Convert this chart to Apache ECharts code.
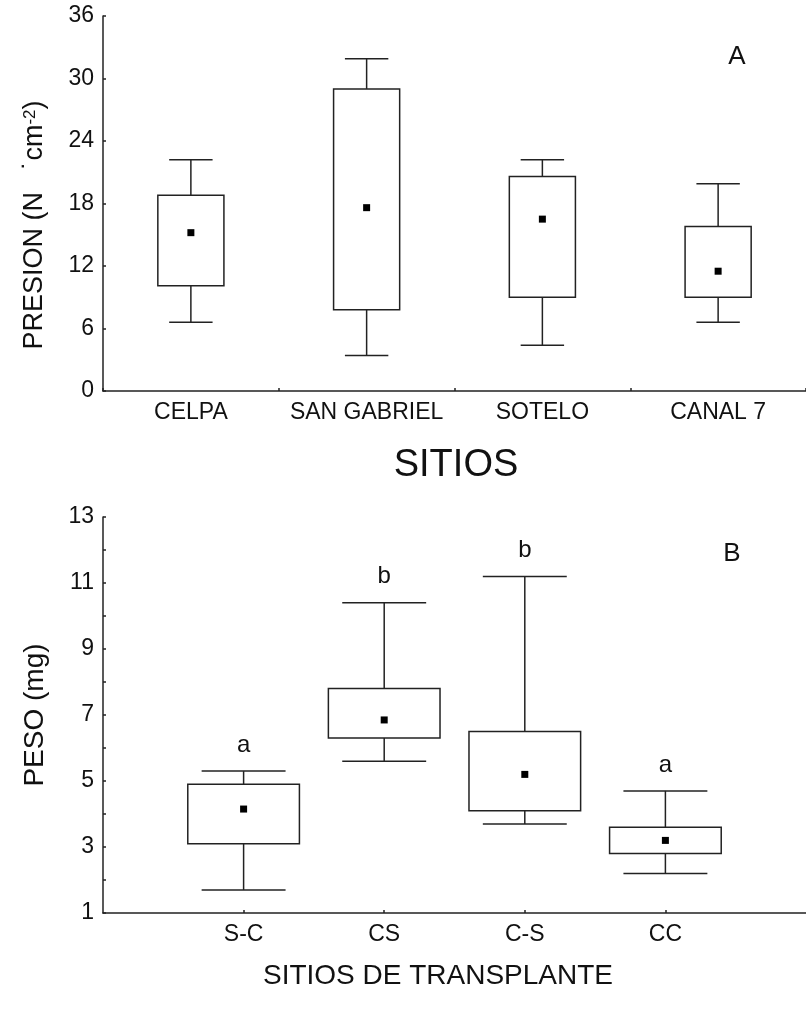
<!DOCTYPE html>
<html>
<head>
<meta charset="utf-8">
<script src="https://cdn.jsdelivr.net/npm/echarts@6/dist/echarts.min.js"></script>
<style>
  html, body { margin: 0; padding: 0; background: #ffffff; }
  #chart { width: 806px; height: 1017px; }
</style>
</head>
<body>
<div id="chart"></div>
<script>
// Panel A: penetration pressure by site
const sitios = ['CELPA', 'SAN GABRIEL', 'SOTELO', 'CANAL 7'];
const presionMin   = [6.6, 3.4, 4.4, 6.6];
const presionQ1    = [10.1, 7.8, 9.0, 9.0];
const presionMedia = [15.2, 17.6, 16.5, 11.5];
const presionQ3    = [18.8, 29.0, 20.6, 15.8];
const presionMax   = [22.2, 31.9, 22.2, 19.9];
const presionTicks = [0, 6, 12, 18, 24, 30, 36];

// Panel B: weight by transplant group
const transplante = ['S-C', 'CS', 'C-S', 'CC'];
const pesoMin   = [1.7, 5.6, 3.7, 2.2];
const pesoQ1    = [3.1, 6.3, 4.1, 2.8];
const pesoMedia = [4.15, 6.85, 5.2, 3.2];
const pesoQ3    = [4.9, 7.8, 6.5, 3.6];
const pesoMax   = [5.3, 10.4, 11.2, 4.7];
const pesoLetras = ['a', 'b', 'b', 'a'];
const pesoTicks = [1, 3, 5, 7, 9, 11, 13];

const FONT = 'Liberation Sans, Arial, sans-serif';
const INK = '#111111';
const LINE = '#222222';

// rows: [x, min, q1, mean, q3, max]
const rowsA = sitios.map((_, i) => [i, presionMin[i], presionQ1[i], presionMedia[i], presionQ3[i], presionMax[i]]);
const rowsB = transplante.map((_, i) => [i + 1, pesoMin[i], pesoQ1[i], pesoMedia[i], pesoQ3[i], pesoMax[i]]);

function boxRenderer(boxFrac, capFrac, letters) {
  return function (params, api) {
    const x = api.value(0);
    const unit = api.size([1, 0])[0];
    const bw = unit * boxFrac, cw = unit * capFrac;
    const pMin = api.coord([x, api.value(1)]);
    const pQ1 = api.coord([x, api.value(2)]);
    const pMean = api.coord([x, api.value(3)]);
    const pQ3 = api.coord([x, api.value(4)]);
    const pMax = api.coord([x, api.value(5)]);
    const cx = pMin[0];
    const lineStyle = { stroke: LINE, lineWidth: 1.5, fill: null };
    const children = [
      { type: 'line', shape: { x1: cx, y1: pQ3[1], x2: cx, y2: pMax[1] }, style: lineStyle },
      { type: 'line', shape: { x1: cx, y1: pMin[1], x2: cx, y2: pQ1[1] }, style: lineStyle },
      { type: 'line', shape: { x1: cx - cw / 2, y1: pMax[1], x2: cx + cw / 2, y2: pMax[1] }, style: lineStyle },
      { type: 'line', shape: { x1: cx - cw / 2, y1: pMin[1], x2: cx + cw / 2, y2: pMin[1] }, style: lineStyle },
      { type: 'rect', shape: { x: cx - bw / 2, y: pQ3[1], width: bw, height: pQ1[1] - pQ3[1] },
        style: { stroke: LINE, lineWidth: 1.5, fill: '#ffffff' } },
      { type: 'rect', shape: { x: cx - 3.5, y: pMean[1] - 3.5, width: 7, height: 7 },
        style: { fill: '#000000' } }
    ];
    if (letters) {
      children.push({
        type: 'text',
        style: {
          text: letters[params.dataIndex], x: cx, y: pMax[1] - 14,
          align: 'center', verticalAlign: 'bottom',
          font: '24px ' + FONT, fill: INK
        }
      });
    }
    return { type: 'group', children: children };
  };
}

const axisLineStyle = { color: LINE, width: 1.5 };
const tickLabel = { color: INK, fontSize: 23, fontFamily: FONT };

const chart = echarts.init(document.getElementById('chart'), null, { renderer: 'canvas' });
chart.setOption({
  animation: false,
  backgroundColor: '#ffffff',
  grid: [
    { left: 103, top: 16, width: 712, height: 375 },
    { left: 103, top: 517, width: 710, height: 396 }
  ],
  xAxis: [
    {
      gridIndex: 0, type: 'category', data: sitios, boundaryGap: true,
      axisLine: { lineStyle: axisLineStyle },
      axisTick: { show: true, inside: true, length: 3, lineStyle: axisLineStyle },
      axisLabel: Object.assign({ margin: 10, interval: 0 }, tickLabel),
      splitLine: { show: false }
    },
    {
      gridIndex: 1, type: 'value', min: 0, max: transplante.length + 1, interval: 1,
      axisLine: { lineStyle: axisLineStyle },
      axisTick: { show: true, inside: true, length: 3, lineStyle: axisLineStyle },
      axisLabel: Object.assign({
        margin: 10, showMinLabel: false, showMaxLabel: false,
        formatter: v => transplante[v - 1] || ''
      }, tickLabel),
      splitLine: { show: false }
    }
  ],
  yAxis: [
    {
      gridIndex: 0, type: 'value',
      min: presionTicks[0], max: presionTicks[presionTicks.length - 1],
      interval: presionTicks[1] - presionTicks[0],
      axisLine: { show: true, lineStyle: axisLineStyle },
      axisTick: { show: true, inside: true, length: 3, lineStyle: axisLineStyle },
      axisLabel: Object.assign({ margin: 9 }, tickLabel),
      splitLine: { show: false }
    },
    {
      gridIndex: 1, type: 'value',
      min: pesoTicks[0], max: pesoTicks[pesoTicks.length - 1],
      interval: pesoTicks[1] - pesoTicks[0],
      axisLine: { show: true, lineStyle: axisLineStyle },
      axisTick: { show: true, inside: true, length: 3, lineStyle: axisLineStyle },
      minorTick: { show: true, splitNumber: 2, length: 3, lineStyle: axisLineStyle },
      axisLabel: Object.assign({ margin: 9 }, tickLabel),
      splitLine: { show: false }
    }
  ],
  series: [
    {
      type: 'custom', xAxisIndex: 0, yAxisIndex: 0, data: rowsA,
      renderItem: boxRenderer(0.376, 0.247, null), silent: true
    },
    {
      type: 'custom', xAxisIndex: 1, yAxisIndex: 1, data: rowsB,
      renderItem: boxRenderer(0.794, 0.597, pesoLetras), silent: true
    }
  ],
  graphic: [
    {
      type: 'text', x: 35, y: 225, rotation: Math.PI / 2,
      style: {
        text: '{n|PRESION (N   ˙cm}{s|-2}{n|)}',
        align: 'center', verticalAlign: 'middle',
        fill: INK,
        rich: {
          n: { fontSize: 27, fontFamily: FONT, fill: INK },
          s: { fontSize: 17, fontFamily: FONT, fill: INK, verticalAlign: 'top' }
        }
      }
    },
    {
      type: 'text', x: 35, y: 715, rotation: Math.PI / 2,
      style: { text: 'PESO (mg)', align: 'center', verticalAlign: 'middle', font: '28px ' + FONT, fill: INK }
    },
    {
      type: 'text', x: 456, y: 466,
      style: { text: 'SITIOS', align: 'center', verticalAlign: 'middle', font: '38px ' + FONT, fill: INK }
    },
    {
      type: 'text', x: 438, y: 976,
      style: { text: 'SITIOS DE TRANSPLANTE', align: 'center', verticalAlign: 'middle', font: '28px ' + FONT, fill: INK }
    },
    {
      type: 'text', x: 737, y: 57,
      style: { text: 'A', align: 'center', verticalAlign: 'middle', font: '26px ' + FONT, fill: INK }
    },
    {
      type: 'text', x: 732, y: 554,
      style: { text: 'B', align: 'center', verticalAlign: 'middle', font: '26px ' + FONT, fill: INK }
    }
  ]
});
</script>
</body>
</html>
